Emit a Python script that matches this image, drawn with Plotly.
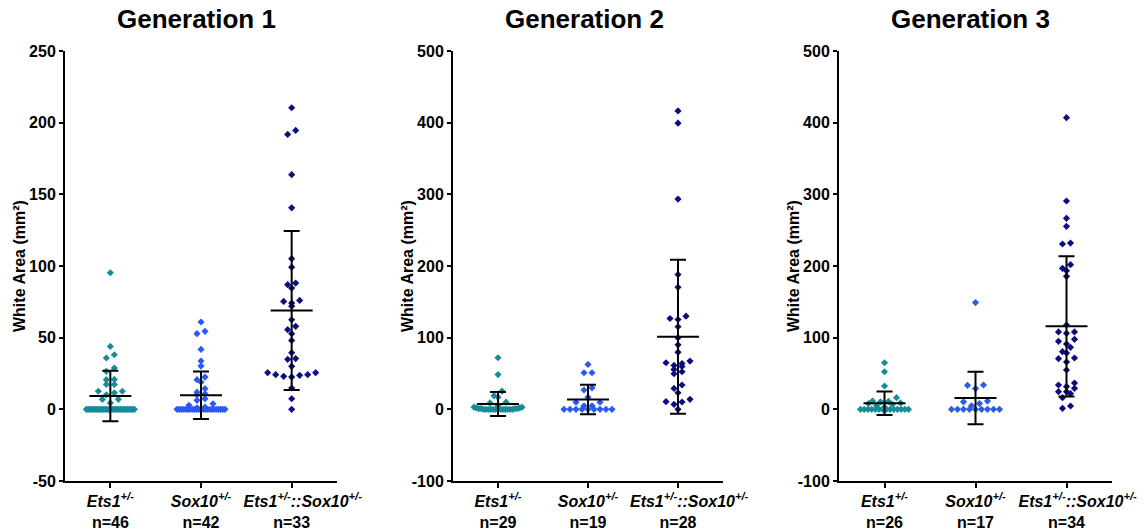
import plotly.graph_objects as go

# White area (mm^2) per animal
gen1_ets1 = [95.3, 43.9, 38.1, 35.8, 28.8, 26.5, 20.9, 20.7, 17.4, 17.4, 12.6, 12.6, 11.6, 10.2, 7.0, 7.0, 4.4,
             0, 0, 0, 0, 0, 0, 0, 0, 0, 0, 0, 0, 0, 0, 0, 0, 0, 0, 0, 0, 0, 0, 0, 0, 0, 0, 0, 0, 0]
gen1_sox10 = [60.9, 54.4, 52.8, 41.8, 33.7, 30.2, 22.5, 20.7, 19.0, 14.4, 12.0, 10.9, 10.2, 7.4, 6.3, 3.9, 2.8, 1.5, 1.0,
              0, 0, 0, 0, 0, 0, 0, 0, 0, 0, 0, 0, 0, 0, 0, 0, 0, 0, 0, 0, 0, 0, 0]
gen1_double = [210.4, 194.6, 191.8, 163.7, 140.6, 105.1, 99.2, 88.1, 87.0, 84.6, 76.0, 75.3, 74.1, 72.0, 62.5,
               57.9, 55.6, 52.8, 48.1, 39.5, 35.4, 34.9, 30.0, 25.6, 24.2, 23.0, 22.5, 23.7, 24.2, 25.6, 14.9, 7.4, 0]

gen2_ets1 = [72.0, 48.5, 25.5, 19.0, 17.0, 10.0, 9.0, 5.0, 3, 3, 2, 2, 1, 1, 1, 1,
             0, 0, 0, 0, 0, 0, 0, 0, 0, 0, 0, 0, 0]
gen2_sox10 = [62.7, 51.0, 51.0, 30.0, 27.0, 17.0, 10.0, 10.0, 5.0, 5.0, 0, 0, 0, 0, 0, 0, 0, 0, 0]
gen2_double = [416.4, 399.3, 293.4, 188.0, 170.3, 130.0, 125.3, 126.7, 115.2, 99.8, 90.0, 79.8, 65.0, 59.9,
               61.3, 64.0, 67.3, 52.5, 49.7, 55.7, 33.9, 29.2, 23.2, 10.2, 7.0, 13.9, 10.7, 0]

gen3_ets1 = [65.0, 52.5, 32.5, 16.3, 11.5, 11.0, 10.5, 9.0, 8.0, 7.0, 5.0, 3.0,
             0, 0, 0, 0, 0, 0, 0, 0, 0, 0, 0, 0, 0, 0]
gen3_sox10 = [149.0, 34.0, 33.5, 29.0, 11.5, 10.5, 8.0, 5.0, 0, 0, 0, 0, 0, 0, 0, 0, 0]
gen3_double = [407.0, 290.7, 266.5, 255.3, 230.7, 232.0, 196.7, 201.9, 193.5, 185.6, 108.0, 106.0, 108.0, 117.7,
               97.7, 91.2, 94.9, 86.5, 78.6, 80.5, 70.7, 66.0, 71.6, 54.9, 33.9, 24.7, 29.3, 21.9, 31.7, 36.7,
               24.7, 16.3, 1.4, 4.7]

# mean and SD bars as drawn
gen1_mean = [9.3, 9.8, 69.0]
gen1_sd = [17.6, 16.6, 55.5]
gen2_mean = [7.4, 13.8, 101.3]
gen2_sd = [16.8, 20.5, 107.5]
gen3_mean = [8.4, 15.8, 115.8]
gen3_sd = [16.4, 36.6, 97.8]

genotypes = ["<i>Ets1<sup>+/-</sup></i>", "<i>Sox10<sup>+/-</sup></i>",
             "\u00a0\u00a0\u00a0\u00a0\u00a0<i>Ets1<sup>+/-</sup>::Sox10<sup>+/-</sup></i>"]
y_ranges = [[-50, 250], [-100, 500], [-100, 500]]
y_ticks = [[-50, 0, 50, 100, 150, 200, 250], [-100, 0, 100, 200, 300, 400, 500], [-100, 0, 100, 200, 300, 400, 500]]
titles = ["Generation 1", "Generation 2", "Generation 3"]

colors = ["#168c98", "#2a5af2", "#0b0b82"]
W, H = 1144, 531
x_px = [(65, 337), (453, 723), (839, 1112)]
y_px = (51, 481)


def swarm(values, px_unit, px_cat, step=8, max_w=48, tol=5):
    order = sorted(range(len(values)), key=lambda i: -values[i])
    rows, cur = [], []
    for i in order:
        if cur and (values[cur[0]] - values[i]) * px_unit > tol:
            rows.append(cur)
            cur = []
        cur.append(i)
    if cur:
        rows.append(cur)
    offs = [0.0] * len(values)
    for row in rows:
        n = len(row)
        s = step if n < 2 else min(step, max_w / (n - 1))
        slots = sorted(range(n), key=lambda k: abs(k - (n - 1) / 2))
        row = sorted(row, key=lambda i: values[i])
        for k, i in zip(slots, row):
            offs[i] = (k - (n - 1) / 2) * s / px_cat
    return offs


panels = [
    ([gen1_ets1, gen1_sox10, gen1_double], gen1_mean, gen1_sd),
    ([gen2_ets1, gen2_sox10, gen2_double], gen2_mean, gen2_sd),
    ([gen3_ets1, gen3_sox10, gen3_double], gen3_mean, gen3_sd),
]

fig = go.Figure()
font = "Liberation Sans, Arial, sans-serif"
ydom = [1 - y_px[1] / H, 1 - y_px[0] / H]

for p, (series, means, sds) in enumerate(panels):
    sfx = "" if p == 0 else str(p + 1)
    px_unit = (y_px[1] - y_px[0]) / (y_ranges[p][1] - y_ranges[p][0])
    px_cat = (x_px[p][1] - x_px[p][0]) / 3.0
    for g, vals in enumerate(series):
        offs = swarm(vals, px_unit, px_cat)
        fig.add_trace(go.Scatter(
            x=[g + o for o in offs], y=vals, mode="markers",
            marker=dict(symbol="diamond", size=5.5, color=colors[g]),
            xaxis="x" + sfx, yaxis="y" + sfx, showlegend=False, hoverinfo="y"))
    fig.add_trace(go.Scatter(
        x=[0, 1, 2], y=means, mode="markers",
        marker=dict(symbol="line-ew-open", size=30, color="black", line=dict(color="black", width=2)),
        error_y=dict(type="data", array=sds, color="black", thickness=2, width=8),
        xaxis="x" + sfx, yaxis="y" + sfx, showlegend=False, hoverinfo="y"))

    ticktext = ["<b>%s</b><br><b>n=%d</b>" % (genotypes[g], len(series[g])) for g in range(3)]

    fig.layout["xaxis" + sfx] = dict(
        domain=[x_px[p][0] / W, x_px[p][1] / W], range=[-0.5, 2.5], anchor="y" + sfx,
        tickvals=[0, 1, 2], ticktext=ticktext, tickangle=0, showline=True, linecolor="black", linewidth=2,
        ticks="outside", ticklen=5, tickwidth=2, tickcolor="black", showgrid=False, zeroline=False,
        tickfont=dict(family=font, size=16, color="black"), automargin=False)
    fig.layout["yaxis" + sfx] = dict(
        domain=ydom, range=y_ranges[p], anchor="x" + sfx, tickvals=y_ticks[p],
        ticktext=["<b>%d</b>" % t for t in y_ticks[p]],
        showline=True, linecolor="black", linewidth=2, ticks="outside", ticklen=4, tickwidth=2,
        tickcolor="black", showgrid=False, zeroline=False, automargin=False,
        tickfont=dict(family=font, size=16, color="black"))

    fig.add_annotation(text="<b>%s</b>" % titles[p], x=(x_px[p][0] + 131) / W, y=1 - 19 / H,
                       xref="paper", yref="paper", xanchor="center", yanchor="middle", showarrow=False,
                       font=dict(family=font, size=26, color="black"))
    fig.add_annotation(text="<b>White Area (mm²)</b>", textangle=-90,
                       x=(x_px[p][0] - 46) / W, y=1 - 266 / H, xref="paper", yref="paper",
                       xanchor="center", yanchor="middle",
                       showarrow=False, font=dict(family=font, size=16, color="black"))

fig.update_layout(width=W, height=H, margin=dict(l=0, r=0, t=0, b=0),
                  plot_bgcolor="white", paper_bgcolor="white")
# drop the default page margin so the figure sits at the window's corner
fig.write_html("out.html", config={"displayModeBar": False},
               post_script="document.body.style.margin='0';")
